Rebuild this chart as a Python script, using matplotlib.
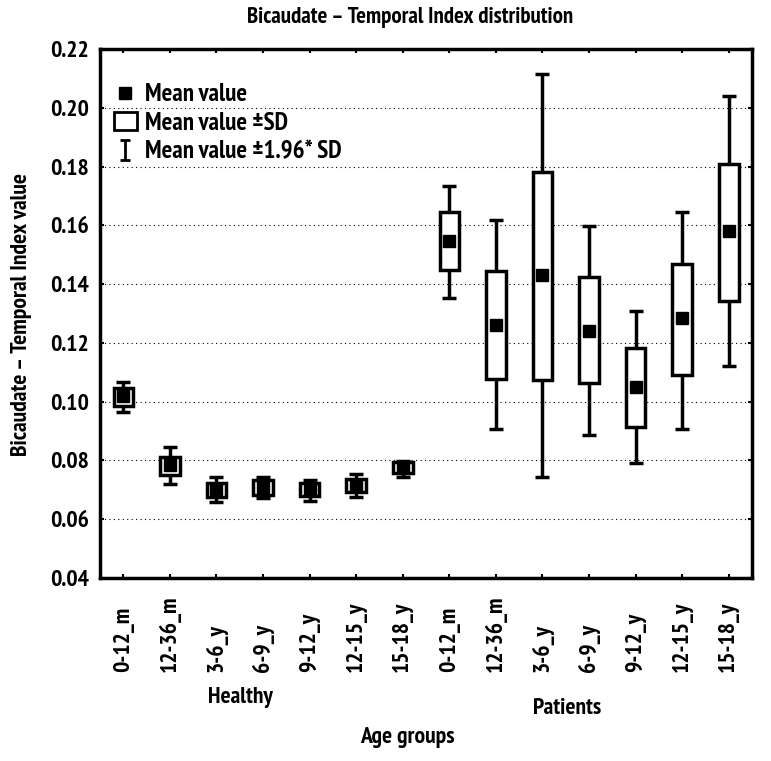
import numpy as np
import matplotlib.pyplot as plt
from matplotlib.patches import Patch
from matplotlib.lines import Line2D
from matplotlib.path import Path

plt.rcParams['font.family'] = ['PT Sans Narrow', 'Roboto Condensed', 'Archivo Narrow', 'DejaVu Sans']
plt.rcParams['font.weight'] = 'bold'

labels = ['0-12_m', '12-36_m', '3-6_y', '6-9_y', '9-12_y', '12-15_y', '15-18_y',
          '0-12_m', '12-36_m', '3-6_y', '6-9_y', '9-12_y', '12-15_y', '15-18_y']
mean = [0.1020, 0.0785, 0.0702, 0.0710, 0.0700, 0.0716, 0.0775,
        0.1545, 0.1262, 0.1430, 0.1242, 0.1051, 0.1286, 0.1580]
sd_lo = [0.0985, 0.0752, 0.0675, 0.0683, 0.0678, 0.0693, 0.0758,
         0.1447, 0.1078, 0.1075, 0.1065, 0.0915, 0.1092, 0.1344]
sd_hi = [0.1048, 0.0812, 0.0724, 0.0734, 0.0724, 0.0737, 0.0795,
         0.1644, 0.1443, 0.1781, 0.1423, 0.1184, 0.1467, 0.1808]
ci_lo = [0.0965, 0.0720, 0.0657, 0.0673, 0.0663, 0.0677, 0.0743,
         0.1354, 0.0908, 0.0744, 0.0887, 0.0792, 0.0908, 0.1120]
ci_hi = [0.1068, 0.0847, 0.0744, 0.0744, 0.0732, 0.0755, 0.0797,
         0.1733, 0.1617, 0.2115, 0.1597, 0.1307, 0.1644, 0.2040]

mean = np.array(mean)
x = np.arange(1, len(labels) + 1)

fig = plt.figure(figsize=(7.71, 7.61), dpi=100)
ax = fig.add_axes([0.1297, 0.2405, 0.8457, 0.6951])

ax.errorbar(x, mean, yerr=[mean - np.array(ci_lo), np.array(ci_hi) - mean],
            fmt='none', ecolor='black', elinewidth=2.5, capsize=5, capthick=2.5, zorder=2)
ax.bar(x, np.array(sd_hi) - np.array(sd_lo), bottom=sd_lo, width=0.42,
       facecolor='white', edgecolor='black', linewidth=2.5, zorder=3)
ax.plot(x, mean, 's', color='black', markersize=8.5, zorder=4)

yt = np.arange(0.04, 0.221, 0.02)
ax.set_xlim(0.5, 14.5)
ax.set_ylim(0.04, 0.22)
ax.set_yticks(yt)
ax.set_yticklabels([f'{v:.2f}' for v in yt], fontsize=17)
ax.set_xticks(x)
ax.set_xticklabels([])
for xi, lab in zip(x, labels):
    ax.text(xi, -0.178, lab, transform=ax.get_xaxis_transform(), rotation=90,
            ha='center', va='bottom', fontsize=17)
ax.tick_params(direction='in', length=3, width=1.5, top=True, right=True, pad=8)
ax.yaxis.grid(True, color='black', linestyle=(0, (1, 3)), linewidth=0.8)
ax.set_axisbelow(True)
for s in ax.spines.values():
    s.set_linewidth(2.5)

I_path = Path([(-0.5, 1), (0.5, 1), (0, 1), (0, -1), (-0.5, -1), (0.5, -1)],
              [Path.MOVETO, Path.LINETO, Path.MOVETO, Path.LINETO, Path.MOVETO, Path.LINETO])
handles = [Line2D([], [], marker='s', ls='none', color='black', markersize=8),
           Patch(facecolor='white', edgecolor='black', linewidth=2),
           Line2D([], [], marker=I_path, ls='none', color='black', markersize=14, markeredgewidth=2)]
ax.legend(handles, ['Mean value', 'Mean value \u00b1SD', 'Mean value \u00b11.96* SD'],
          loc='upper left', bbox_to_anchor=(-0.005, 0.968), frameon=False, fontsize=18,
          handlelength=0.9, handletextpad=0.35, labelspacing=0.22, borderaxespad=0.3)

fig.text(410 / 771, 1 - 18 / 761, 'Bicaudate \u2013 Temporal Index distribution',
         ha='center', va='center', fontsize=16.5)
fig.text(22 / 771, 1 - 315 / 761, 'Bicaudate \u2013 Temporal Index value',
         ha='center', va='center', rotation=90, fontsize=17)
fig.text(240 / 771, 1 - 697 / 761, 'Healthy', ha='center', va='center', fontsize=17)
fig.text(567 / 771, 1 - 708 / 761, 'Patients', ha='center', va='center', fontsize=17)
fig.text(407 / 771, 1 - 738 / 761, 'Age groups', ha='center', va='center', fontsize=17)

fig.savefig('out.png', dpi=100)
